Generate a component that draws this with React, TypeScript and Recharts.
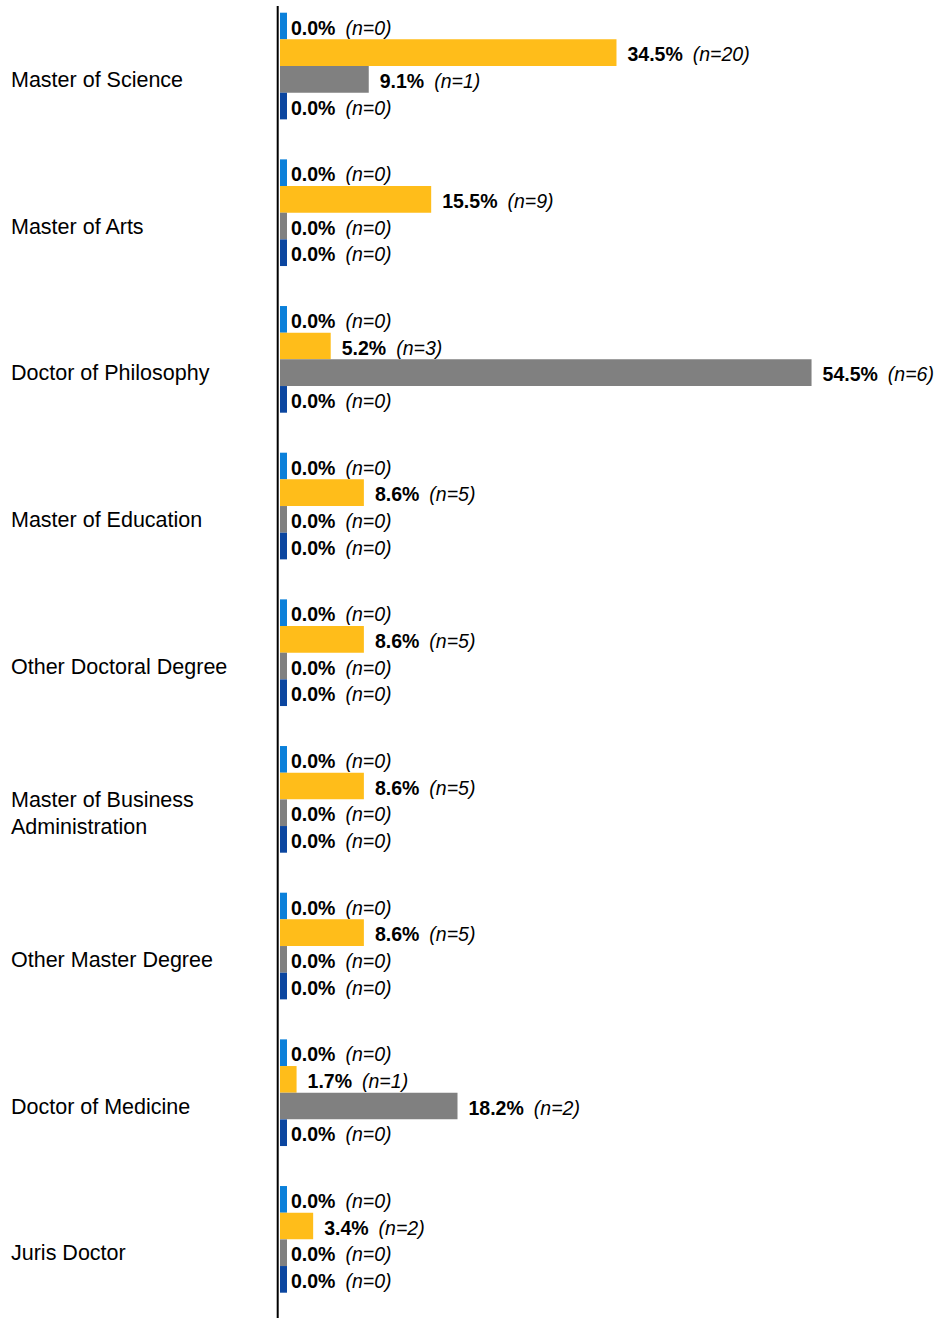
import React from 'react';
import { BarChart, Bar, XAxis, YAxis, ReferenceLine, LabelList } from 'recharts';

const categories = [
  'Master of Science',
  'Master of Arts',
  'Doctor of Philosophy',
  'Master of Education',
  'Other Doctoral Degree',
  'Master of Business Administration',
  'Other Master Degree',
  'Doctor of Medicine',
  'Juris Doctor',
];

const lightBluePct = [0, 0, 0, 0, 0, 0, 0, 0, 0];
const lightBlueN = [0, 0, 0, 0, 0, 0, 0, 0, 0];
const yellowPct = [34.5, 15.5, 5.2, 8.6, 8.6, 8.6, 8.6, 1.7, 3.4];
const yellowN = [20, 9, 3, 5, 5, 5, 5, 1, 2];
const grayPct = [9.1, 0, 54.5, 0, 0, 0, 0, 18.2, 0];
const grayN = [1, 0, 6, 0, 0, 0, 0, 2, 0];
const darkBluePct = [0, 0, 0, 0, 0, 0, 0, 0, 0];
const darkBlueN = [0, 0, 0, 0, 0, 0, 0, 0, 0];

const series = [
  { key: 's1', color: '#0B80DA', pct: lightBluePct, n: lightBlueN },
  { key: 's2', color: '#FFBD1A', pct: yellowPct, n: yellowN },
  { key: 's3', color: '#808080', pct: grayPct, n: grayN },
  { key: 's4', color: '#0B46A0', pct: darkBluePct, n: darkBlueN },
];

const data = categories.map((name, i) => ({
  name,
  s1: lightBluePct[i],
  s2: yellowPct[i],
  s3: grayPct[i],
  s4: darkBluePct[i],
}));

const FONT = '"Liberation Sans", Arial, sans-serif';

function wrapText(text: string, maxChars: number): string[] {
  const words = text.split(' ');
  const lines: string[] = [];
  let cur = '';
  words.forEach((w) => {
    const next = cur ? cur + ' ' + w : w;
    if (next.length > maxChars && cur) {
      lines.push(cur);
      cur = w;
    } else {
      cur = next;
    }
  });
  if (cur) lines.push(cur);
  return lines;
}

function CategoryTick(props: any) {
  const { y, payload } = props;
  const lines = wrapText(String(payload.value), 24);
  const lh = 26.7;
  const first = y + 21 - ((lines.length - 1) * lh) / 2;
  return (
    <text x={11} y={first} fontFamily={FONT} fontSize={21.5} fill="#000" textAnchor="start">
      {lines.map((l, i) => (
        <tspan key={i} x={11} y={first + i * lh}>
          {l}
        </tspan>
      ))}
    </text>
  );
}

const makeLabel = (pct: number[], n: number[]) => (p: any) => {
  const vb = p.viewBox || p;
  const i = p.index;
  const v = pct[i];
  const bx = Number(vb.x);
  const bw = Number(vb.width);
  const x = bx + (v === 0 ? 0 : bw) + 11;
  const y = Number(vb.y) + Number(vb.height) / 2 + 8.5;
  return (
    <text x={x} y={y} fontFamily={FONT} fontSize={19.5} fill="#000" textAnchor="start">
      <tspan fontWeight="bold">{v.toFixed(1)}%</tspan>
      <tspan dx={10} fontStyle="italic">(n={n[i]})</tspan>
    </text>
  );
};

const AxisLineShape = (p: any) => {
  const top = Math.min(p.y1, p.y2);
  const bottom = Math.max(p.y1, p.y2);
  return <line x1={p.x1} x2={p.x2} y1={top + 13.3} y2={bottom + 5.3} stroke="#000" strokeWidth={2} />;
};

export default function App() {
  return (
    <div style={{ position: 'absolute', left: 0, top: -20, width: 936, height: 1338 }}>
      <style>{`body{overflow:hidden}`}</style>
      <BarChart
        width={936}
        height={1338}
        data={data}
        layout="vertical"
        margin={{ top: 12.7, right: 0, bottom: 5.3, left: 0 }}
        barCategoryGap={20}
        barGap={0}
      >
        <XAxis type="number" hide domain={[-0.236, 67.26]} />
        <YAxis
          type="category"
          dataKey="name"
          width={277.7}
          axisLine={false}
          tickLine={false}
          interval={0}
          tick={<CategoryTick />}
        />
        {series.map((s) => (
          <Bar
            key={s.key}
            dataKey={s.key}
            fill={s.color}
            barSize={26.667}
            minPointSize={7}
            isAnimationActive={false}
          >
            <LabelList dataKey={s.key} content={makeLabel(s.pct, s.n)} />
          </Bar>
        ))}
        <ReferenceLine x={-0.236} shape={AxisLineShape} ifOverflow="visible" />
      </BarChart>
    </div>
  );
}
